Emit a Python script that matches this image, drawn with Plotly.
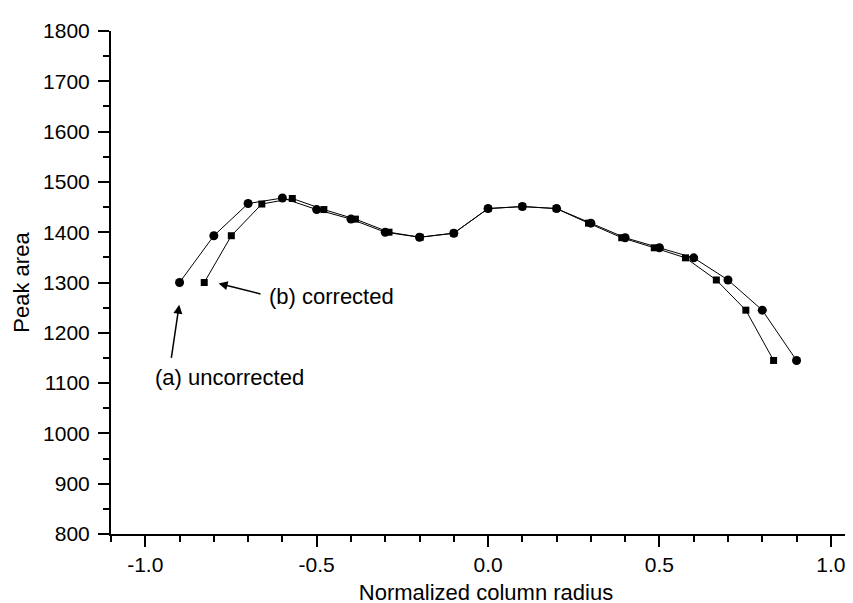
import plotly.graph_objects as go

# (a) uncorrected
x_uncorr = [-0.90, -0.80, -0.70, -0.60, -0.50, -0.40, -0.30, -0.20, -0.10, 0.00,
            0.10, 0.20, 0.30, 0.40, 0.50, 0.60, 0.70, 0.80, 0.90]
y_uncorr = [1300, 1393, 1457, 1468, 1445, 1426, 1400, 1390, 1398, 1447,
            1451, 1447, 1418, 1389, 1369, 1349, 1305, 1245, 1145]

# (b) corrected
x_corr = [-0.828, -0.749, -0.660, -0.571, -0.479, -0.387, -0.289, -0.198, -0.10, 0.00,
          0.10, 0.199, 0.293, 0.390, 0.485, 0.576, 0.666, 0.752, 0.833]
y_corr = [1300, 1393, 1456, 1467, 1445, 1426, 1400, 1390, 1398, 1447,
          1451, 1447, 1418, 1389, 1369, 1349, 1305, 1245, 1145]

x_tickvals = [-1.0, -0.5, 0.0, 0.5, 1.0]
x_ticktext = ["-1.0", "-0.5", "0.0", "0.5", "1.0"]
y_tickvals = [800, 900, 1000, 1100, 1200, 1300, 1400, 1500, 1600, 1700, 1800]
y_ticktext = [str(v) for v in y_tickvals]

FONT = "Liberation Sans, Arial, Helvetica, sans-serif"

fig = go.Figure()
fig.add_trace(go.Scatter(
    x=x_uncorr, y=y_uncorr, mode="lines+markers", name="(a) uncorrected",
    line=dict(color="black", width=1),
    marker=dict(symbol="circle", size=9, color="black"),
))
fig.add_trace(go.Scatter(
    x=x_corr, y=y_corr, mode="lines+markers", name="(b) corrected",
    line=dict(color="black", width=1),
    marker=dict(symbol="square", size=7, color="black"),
))

# arrows
fig.add_annotation(x=-0.786, y=1298, ax=-0.6595, ay=1276.5, axref="x", ayref="y",
                   xref="x", yref="y", text="", showarrow=True, arrowhead=2,
                   arrowsize=1.2, arrowwidth=1.5, arrowcolor="black")
fig.add_annotation(x=-0.901, y=1256, ax=-0.9246, ay=1147, axref="x", ayref="y",
                   xref="x", yref="y", text="", showarrow=True, arrowhead=2,
                   arrowsize=1.2, arrowwidth=1.5, arrowcolor="black")
# labels
fig.add_annotation(x=-0.646, y=1273, xref="x", yref="y", text="(b) corrected",
                   showarrow=False, xanchor="left", yanchor="middle",
                   font=dict(family=FONT, size=22, color="black"))
fig.add_annotation(x=-0.978, y=1111, xref="x", yref="y", text="(a) uncorrected",
                   showarrow=False, xanchor="left", yanchor="middle",
                   font=dict(family=FONT, size=22, color="black"))

fig.update_layout(
    width=853, height=603,
    margin=dict(l=103, r=0, t=23, b=77),
    paper_bgcolor="white", plot_bgcolor="white",
    showlegend=False,
    font=dict(family=FONT, size=21, color="black"),
)
fig.update_xaxes(
    range=[-1.1, 1.088], showgrid=False, zeroline=False,
    showline=True, linecolor="black", linewidth=2,
    ticks="outside", ticklen=11, tickwidth=2, tickcolor="black",
    tickvals=x_tickvals, ticktext=x_ticktext,
    tickfont=dict(family=FONT, size=21, color="black"),
    minor=dict(ticks="outside", ticklen=6, tickwidth=2, tickcolor="black", dtick=0.1, tick0=0, showgrid=False),
    title=dict(text="Normalized column radius", font=dict(family=FONT, size=22, color="black"), standoff=9),
)
fig.update_yaxes(
    range=[800, 1800], showgrid=False, zeroline=False,
    showline=True, linecolor="black", linewidth=2,
    ticks="outside", ticklen=11, tickwidth=2, tickcolor="black",
    tickvals=y_tickvals, ticktext=y_ticktext, ticklabelstandoff=4,
    tickfont=dict(family=FONT, size=21, color="black"),
    minor=dict(ticks="outside", ticklen=6, tickwidth=2, tickcolor="black", dtick=50, tick0=0, showgrid=False),
    title=dict(text="Peak area", font=dict(family=FONT, size=22, color="black"), standoff=7),
)

fig.write_html("out.html")
